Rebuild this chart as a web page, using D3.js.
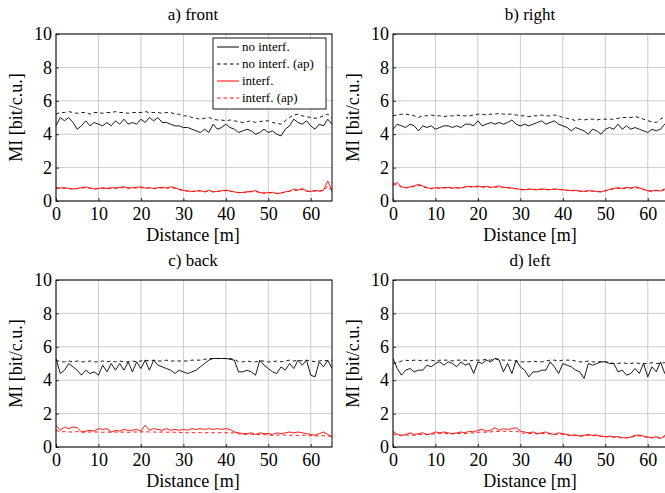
<!DOCTYPE html>
<html>
<head>
<meta charset="utf-8">
<script src="https://cdn.jsdelivr.net/npm/d3@7"></script>
<style>
  body { margin: 0; background: #fff; }
  svg { display: block; font-family: "Liberation Serif", "Times New Roman", serif; }
  .grid line { stroke: #cccccc; stroke-width: 1; }
</style>
</head>
<body>
<svg id="chart" width="665" height="493"></svg>
<script>
// sample positions along the track [m]
const distance = d3.range(0, 66);
const xTicks = [0, 10, 20, 30, 40, 50, 60];
const yTicks = [0, 2, 4, 6, 8, 10];
const legendLabels = ["no interf.", "no interf. (ap)", "interf.", "interf. (ap)"];

// a) front
const frontNoInterf = [4.5,5.0,4.8,5.0,4.7,4.3,4.5,4.8,4.5,4.7,4.6,4.5,4.7,4.5,4.8,4.6,4.9,4.6,4.7,4.6,4.9,4.7,5.0,4.8,5.0,4.7,4.7,4.6,4.5,4.5,4.4,4.4,4.3,4.2,4.1,4.3,4.1,4.6,4.3,4.4,4.6,4.4,4.3,4.1,4.2,4.3,4.2,4.0,4.1,4.3,4.1,4.2,4.0,3.9,4.3,4.5,4.9,4.7,4.6,4.8,4.5,4.3,4.6,4.5,4.9,4.6];
const frontNoInterfAp = [5.2,5.3,5.3,5.35,5.3,5.25,5.3,5.3,5.2,5.3,5.3,5.25,5.3,5.3,5.35,5.3,5.3,5.25,5.3,5.3,5.3,5.35,5.3,5.3,5.3,5.25,5.3,5.3,5.2,5.2,5.1,5.1,5.0,4.95,4.9,4.95,5.0,4.9,4.85,4.85,4.8,4.85,4.8,4.75,4.7,4.75,4.8,4.7,4.75,4.8,4.8,4.7,4.65,4.6,4.8,5.0,5.15,5.2,5.1,5.05,5.0,4.95,5.0,5.1,5.2,4.95];
const frontInterf = [0.8,0.78,0.8,0.75,0.72,0.75,0.8,0.85,0.78,0.72,0.75,0.8,0.75,0.8,0.78,0.82,0.85,0.78,0.8,0.82,0.85,0.78,0.8,0.75,0.8,0.82,0.78,0.85,0.8,0.7,0.65,0.6,0.58,0.6,0.62,0.55,0.65,0.55,0.58,0.62,0.65,0.6,0.55,0.5,0.52,0.55,0.58,0.62,0.5,0.48,0.5,0.52,0.45,0.48,0.55,0.6,0.72,0.65,0.75,0.6,0.58,0.62,0.6,0.65,1.2,0.62];
const frontInterfAp = [0.76,0.75,0.76,0.74,0.72,0.74,0.77,0.8,0.76,0.72,0.74,0.76,0.74,0.76,0.76,0.78,0.8,0.76,0.77,0.78,0.8,0.76,0.77,0.74,0.76,0.78,0.76,0.8,0.76,0.68,0.62,0.58,0.56,0.58,0.6,0.54,0.6,0.54,0.56,0.6,0.62,0.58,0.54,0.5,0.5,0.53,0.55,0.58,0.5,0.47,0.48,0.5,0.45,0.47,0.53,0.58,0.66,0.62,0.7,0.58,0.56,0.6,0.58,0.62,0.9,0.6];

// b) right
const rightNoInterf = [4.3,4.6,4.5,4.4,4.6,4.5,4.2,4.5,4.4,4.5,4.3,4.4,4.5,4.5,4.4,4.5,4.4,4.6,4.6,4.5,4.8,4.5,4.6,4.7,4.6,4.7,4.6,4.7,4.85,4.6,4.5,4.6,4.5,4.6,4.7,4.8,4.6,4.7,4.8,4.6,4.5,4.4,4.2,4.4,4.3,4.2,4.0,4.3,4.2,4.0,4.3,4.4,4.3,4.6,4.3,4.5,4.3,4.4,4.3,4.2,4.1,4.3,4.2,4.3,4.6,4.5];
const rightNoInterfAp = [5.1,5.15,5.2,5.2,5.15,5.1,5.0,5.1,5.1,5.15,5.1,5.1,5.05,5.1,5.1,5.15,5.1,5.1,5.1,5.15,5.2,5.2,5.15,5.2,5.2,5.25,5.2,5.2,5.2,5.15,5.1,5.1,5.05,5.1,5.1,5.15,5.1,5.1,5.15,5.1,5.0,4.95,4.9,4.8,4.9,4.85,4.9,4.9,4.85,4.9,4.9,4.9,4.9,4.95,5.0,5.0,5.0,5.05,5.0,4.9,4.8,4.75,4.7,4.9,5.05,5.1];
const rightInterf = [1.0,1.1,0.85,0.8,0.85,0.9,1.0,0.9,0.8,0.75,0.8,0.78,0.8,0.82,0.78,0.8,0.78,0.85,0.88,0.85,0.9,0.85,0.88,0.82,0.85,0.9,0.82,0.8,0.78,0.75,0.7,0.68,0.72,0.7,0.68,0.72,0.7,0.68,0.72,0.7,0.68,0.65,0.62,0.65,0.6,0.58,0.62,0.6,0.58,0.55,0.62,0.7,0.75,0.8,0.75,0.82,0.78,0.85,0.8,0.7,0.62,0.6,0.65,0.6,0.72,0.7];
const rightInterfAp = [0.95,1.0,0.82,0.78,0.82,0.86,0.95,0.86,0.78,0.74,0.78,0.76,0.78,0.8,0.76,0.78,0.76,0.82,0.85,0.82,0.86,0.82,0.85,0.8,0.82,0.86,0.8,0.78,0.76,0.73,0.68,0.66,0.7,0.68,0.66,0.7,0.68,0.66,0.7,0.68,0.66,0.63,0.6,0.63,0.58,0.56,0.6,0.58,0.56,0.54,0.6,0.68,0.72,0.76,0.72,0.78,0.75,0.8,0.76,0.68,0.6,0.58,0.62,0.58,0.68,0.68];

// c) back
const backNoInterf = [5.3,4.4,4.6,5.0,4.8,4.6,4.3,4.6,4.4,4.5,4.3,4.9,4.5,5.0,4.6,5.0,4.6,5.1,4.5,5.1,4.7,5.2,4.6,5.2,4.9,4.8,4.7,4.6,4.4,4.6,4.5,4.4,4.5,4.6,4.8,5.0,5.2,5.3,5.3,5.3,5.3,5.25,5.2,4.5,4.5,4.6,4.5,4.3,5.2,4.9,4.7,4.5,4.4,4.8,4.6,5.0,4.7,5.2,4.9,5.2,4.3,4.2,5.1,4.8,5.2,4.7];
const backNoInterfAp = [5.2,5.1,5.1,5.15,5.1,5.15,5.1,5.1,5.15,5.1,5.1,5.15,5.1,5.15,5.1,5.15,5.1,5.1,5.15,5.1,5.15,5.2,5.15,5.2,5.15,5.15,5.2,5.15,5.15,5.15,5.15,5.15,5.2,5.2,5.2,5.25,5.3,5.3,5.3,5.3,5.3,5.3,5.25,5.1,5.1,5.15,5.1,5.1,5.15,5.15,5.1,5.1,5.15,5.1,5.15,5.2,5.15,5.2,5.15,5.2,5.15,5.1,5.15,5.2,5.15,5.2];
const backInterf = [1.3,1.0,1.2,1.1,1.2,1.15,0.9,0.95,1.0,0.95,1.1,1.05,1.1,0.9,1.0,0.95,1.05,1.0,1.0,1.05,0.95,1.3,1.0,1.1,1.05,1.0,1.1,1.0,1.05,1.0,1.05,1.0,1.1,1.05,1.1,1.05,1.1,1.05,1.1,1.05,1.1,1.05,0.9,0.85,0.8,0.8,0.85,0.75,0.85,0.8,0.8,0.75,0.85,0.8,0.85,0.9,0.85,0.9,0.85,0.8,0.75,0.7,0.8,0.9,0.75,0.6];
const backInterfAp = [1.0,0.9,0.92,0.9,0.9,0.92,0.9,0.88,0.9,0.9,0.9,0.88,0.9,0.88,0.9,0.88,0.9,0.88,0.9,0.9,0.9,0.92,0.9,0.9,0.88,0.9,0.88,0.9,0.88,0.88,0.86,0.85,0.86,0.85,0.86,0.85,0.86,0.85,0.85,0.86,0.85,0.85,0.84,0.78,0.76,0.75,0.76,0.74,0.75,0.74,0.72,0.7,0.72,0.7,0.72,0.7,0.72,0.7,0.7,0.7,0.68,0.66,0.66,0.68,0.66,0.64];

// d) left
const leftNoInterf = [5.3,4.7,4.3,4.6,4.7,4.5,4.6,4.6,4.9,4.8,5.0,5.1,4.9,5.1,5.0,4.8,5.1,4.9,5.0,4.4,5.1,5.0,5.2,5.1,5.3,5.2,4.5,5.0,4.4,5.2,4.8,4.6,4.2,4.5,4.5,4.6,4.6,5.1,4.8,4.4,5.0,4.9,4.8,4.6,4.5,4.1,5.0,4.9,5.0,5.1,5.1,5.0,5.0,4.5,4.6,4.3,4.4,4.7,4.4,5.0,4.2,4.8,4.5,5.1,4.4,4.6];
const leftNoInterfAp = [5.0,5.05,5.15,5.2,5.15,5.2,5.2,5.15,5.2,5.2,5.15,5.2,5.2,5.2,5.15,5.2,5.2,5.2,5.15,5.2,5.2,5.2,5.25,5.2,5.3,5.25,5.2,5.2,5.2,5.15,5.1,5.1,5.1,5.15,5.1,5.1,5.15,5.2,5.2,5.15,5.2,5.2,5.2,5.15,5.1,5.1,5.15,5.1,5.1,5.1,5.1,5.05,5.0,5.0,5.05,5.0,5.0,5.05,5.0,5.0,5.0,5.05,5.0,5.0,5.05,5.0];
const leftInterf = [0.95,0.75,0.7,0.75,0.85,0.75,0.8,0.85,0.75,0.8,0.9,0.85,0.9,0.85,0.8,0.85,0.9,0.85,0.95,0.9,1.0,1.05,0.95,1.0,1.15,1.0,1.1,1.05,1.1,1.15,0.95,0.9,0.85,0.9,0.8,0.85,0.9,0.8,0.75,0.85,0.8,0.75,0.7,0.72,0.65,0.7,0.75,0.7,0.72,0.65,0.62,0.65,0.6,0.62,0.55,0.55,0.6,0.7,0.72,0.65,0.6,0.55,0.62,0.5,0.7,0.6];
const leftInterfAp = [0.8,0.7,0.68,0.7,0.72,0.7,0.74,0.76,0.74,0.76,0.8,0.8,0.8,0.8,0.78,0.8,0.82,0.8,0.84,0.84,0.88,0.9,0.88,0.9,0.95,0.92,0.95,0.92,0.95,0.95,0.86,0.82,0.8,0.82,0.78,0.8,0.82,0.78,0.74,0.78,0.76,0.72,0.68,0.7,0.64,0.66,0.7,0.68,0.68,0.64,0.6,0.62,0.58,0.6,0.55,0.55,0.58,0.64,0.66,0.62,0.58,0.55,0.6,0.52,0.62,0.58];

const panels = [
  { title: "a) front", left: 56,  top: 34,  series: [frontNoInterf, frontNoInterfAp, frontInterf, frontInterfAp], legend: true },
  { title: "b) right", left: 393, top: 34,  series: [rightNoInterf, rightNoInterfAp, rightInterf, rightInterfAp] },
  { title: "c) back",  left: 56,  top: 280, series: [backNoInterf, backNoInterfAp, backInterf, backInterfAp] },
  { title: "d) left",  left: 393, top: 280, series: [leftNoInterf, leftNoInterfAp, leftInterf, leftInterfAp] }
];

const styles = [
  { color: "#000", dash: null },
  { color: "#000", dash: "3.5,3" },
  { color: "#ff0000", dash: null },
  { color: "#ff0000", dash: "3.5,3" }
];

const W = 276, H = 167;
const svg = d3.select("#chart");

const x = d3.scaleLinear().domain([0, 65]).range([0, W]);
const y = d3.scaleLinear().domain([0, 10]).range([H, 0]);

panels.forEach(function(p, k) {
  const g = svg.append("g").attr("transform", "translate(" + p.left + "," + p.top + ")");

  g.append("clipPath").attr("id", "clip" + k)
    .append("rect").attr("width", W).attr("height", H);

  // grid
  g.append("g").attr("class", "grid")
    .selectAll("line.v").data(xTicks).enter().append("line")
      .attr("x1", d => x(d)).attr("x2", d => x(d))
      .attr("y1", 0).attr("y2", H);
  g.append("g").attr("class", "grid")
    .selectAll("line.h").data(yTicks).enter().append("line")
      .attr("x1", 0).attr("x2", W)
      .attr("y1", d => y(d)).attr("y2", d => y(d));

  // data lines
  const line = d3.line().x((d, i) => x(distance[i])).y(d => y(d));
  const lines = g.append("g").attr("clip-path", "url(#clip" + k + ")");
  p.series.forEach(function(s, j) {
    lines.append("path")
      .datum(s)
      .attr("d", line)
      .attr("fill", "none")
      .attr("stroke", styles[j].color)
      .attr("stroke-width", 0.9)
      .attr("stroke-dasharray", styles[j].dash);
  });

  // axes, ticks pointing inward
  const xAxis = g.append("g").attr("transform", "translate(0," + H + ")")
    .call(d3.axisBottom(x).tickValues(xTicks).tickSizeInner(-3).tickSizeOuter(0).tickPadding(6));
  const yAxis = g.append("g")
    .call(d3.axisLeft(y).tickValues(yTicks).tickSizeInner(-3).tickSizeOuter(0).tickPadding(4));
  [xAxis, yAxis].forEach(a => {
    a.select(".domain").remove();
    a.selectAll("text").attr("font-size", 18).attr("font-family", "Liberation Serif").attr("fill", "#000");
    a.selectAll("line").attr("stroke", "#000").attr("stroke-width", 0.8);
  });
  xAxis.selectAll("text").attr("dy", "0.72em");

  // frame
  g.append("rect").attr("width", W).attr("height", H)
    .attr("fill", "none").attr("stroke", "#000").attr("stroke-width", 1);

  // labels
  g.append("text").attr("x", W / 2 - 1).attr("y", -14)
    .attr("text-anchor", "middle").attr("font-size", 17).text(p.title);
  g.append("text").attr("x", W / 2 - 1).attr("y", H + 40)
    .attr("text-anchor", "middle").attr("font-size", 18).text("Distance [m]");
  g.append("text")
    .attr("transform", "translate(-34," + (H / 2) + ") rotate(-90)")
    .attr("text-anchor", "middle").attr("font-size", 18).text("MI [bit/c.u.]");

  if (p.legend) {
    const lg = g.append("g").attr("transform", "translate(157,4)");
    lg.append("rect").attr("width", 113).attr("height", 71)
      .attr("fill", "#fff").attr("stroke", "#000").attr("stroke-width", 0.9);
    legendLabels.forEach(function(lab, j) {
      const yy = 9 + j * 17;
      lg.append("line").attr("x1", 4).attr("x2", 26).attr("y1", yy).attr("y2", yy)
        .attr("stroke", styles[j].color).attr("stroke-width", 1)
        .attr("stroke-dasharray", styles[j].dash);
      lg.append("text").attr("x", 29).attr("y", yy + 4)
        .attr("font-size", 13).text(lab);
    });
  }
});
</script>
</body>
</html>
